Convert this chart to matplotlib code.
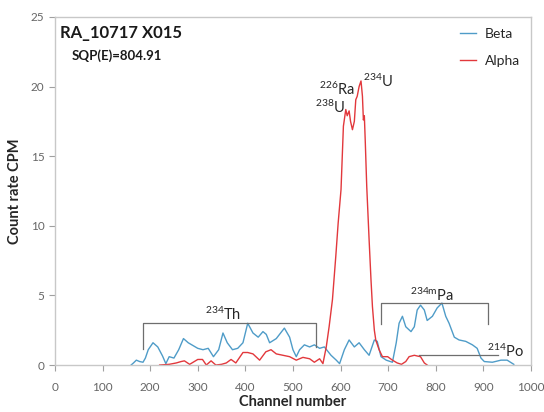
import matplotlib
matplotlib.use("Agg")
import matplotlib.pyplot as plt

plt.rcParams['font.family'] = ['Lato', 'DejaVu Sans']
plt.rcParams['mathtext.fontset'] = 'custom'
plt.rcParams['mathtext.rm'] = 'Lato'
plt.rcParams['mathtext.it'] = 'Lato'
plt.rcParams['mathtext.bf'] = 'Lato:bold'

# ---- data ----
beta_ch = [160, 165, 171, 178, 185, 190, 196, 206, 216, 226, 233, 240, 250, 260, 270, 280, 290, 300,
           311, 322, 333, 344, 353, 362, 373, 384, 395, 405, 416, 427, 437, 444, 451, 465, 482, 493,
           500, 507, 514, 524, 535, 545, 556, 566, 580, 591, 598, 608, 618, 629, 639, 650, 660, 671,
           677, 685, 696, 709, 717, 723, 730, 737, 748, 755, 761, 768, 776, 782, 793, 803, 813, 821,
           828, 839, 849, 863, 877, 887, 895, 902, 919, 937, 950, 964]
beta_cpm = [0.0, 0.15, 0.35, 0.25, 0.2, 0.5, 1.1, 1.6, 1.3, 0.65, 0.1, 0.6, 0.5, 1.1, 1.9, 1.6, 1.4, 1.2,
            1.1, 1.2, 0.6, 1.1, 2.3, 1.6, 1.1, 1.2, 1.6, 3.0, 2.3, 2.0, 2.4, 2.2, 1.6, 1.9, 2.65, 2.0,
            1.1, 0.6, 1.1, 1.45, 1.3, 1.45, 1.2, 1.3, 0.7, 0.35, 0.1, 1.1, 1.8, 1.3, 1.6, 1.1, 0.7, 1.8,
            1.7, 0.6, 0.35, 0.2, 1.6, 3.0, 3.5, 2.75, 2.4, 2.75, 3.95, 4.3, 3.95, 3.2, 3.5, 4.1, 4.45, 3.5,
            3.0, 2.0, 1.8, 1.7, 1.45, 1.2, 0.5, 0.25, 0.2, 0.35, 0.35, 0.05]

alpha_ch = [220, 240, 255, 265, 272, 283, 300, 310, 318, 328, 338, 350, 360, 370, 380, 395, 405, 416,
            430, 443, 454, 465, 479, 493, 507, 521, 535, 545, 556, 563, 570, 576, 583, 590, 595, 601,
            606, 611, 614, 618, 621, 625, 629, 632, 635, 639, 643, 646, 648, 650, 652, 655, 660, 664,
            667, 671, 674, 681, 688, 699, 709, 719, 728, 737, 744, 755, 761, 768, 776, 782]
alpha_cpm = [0.0, 0.05, 0.15, 0.25, 0.3, 0.05, 0.4, 0.4, 0.0, 0.3, 0.0, 0.05, 0.15, 0.4, 0.15, 0.9, 0.9, 0.8,
             0.35, 0.95, 1.1, 0.8, 0.7, 0.6, 0.35, 0.55, 0.45, 0.2, 0.45, 0.1, 1.3, 2.75, 4.7, 7.8, 10.2, 12.6,
             17.15, 18.35, 17.9, 18.25, 17.5, 16.9, 17.5, 19.05, 19.3, 20.0, 20.4, 19.3, 17.6, 17.9, 16.0, 12.85, 9.0, 6.1,
             4.2, 2.5, 1.8, 1.1, 0.6, 0.6, 0.35, 0.15, 0.05, 0.25, 0.6, 0.7, 0.65, 0.6, 0.15, 0.0]

x_ticks = [0, 100, 200, 300, 400, 500, 600, 700, 800, 900, 1000]
y_ticks = [0, 5, 10, 15, 20, 25]

# bracket annotations: (left channel, right channel, bottom-left, bottom-right, top)
th_bracket = (184, 549, 1.15, 1.3, 3.0)
pa_bracket = (686, 909, 2.95, 2.95, 4.45)
po_line = (765, 930, 0.7)

# ---- figure ----
fig = plt.figure(figsize=(5.44, 4.12), dpi=100)
ax = fig.add_axes([0.101, 0.114, 0.875, 0.845])

blue = '#4f9cc8'
red = '#e2383c'
gray = '#666666'
ax.plot(beta_ch, beta_cpm, color=blue, lw=1.0, label='Beta')
ax.plot(alpha_ch, alpha_cpm, color=red, lw=1.0, label='Alpha')

ax.set_xlim(0, 1000)
ax.set_ylim(0, 25)
ax.set_xticks(x_ticks)
ax.set_yticks(y_ticks)
for s in ax.spines.values():
    s.set_color('#c8c8c8')
    s.set_linewidth(1.0)
ax.tick_params(axis='both', colors='#a0a0a0', labelcolor=gray, labelsize=8.5,
               direction='out', length=4, width=0.8)
ax.tick_params(axis='x', pad=8)
ax.set_xlabel('Channel number', fontsize=10.5, fontweight='bold', color='#262626', labelpad=2)
ax.set_ylabel('Count rate CPM', fontsize=10.5, fontweight='bold', color='#262626', labelpad=6)

# brackets
bc = '#6e6e6e'
l, r, bl, br, t = th_bracket
ax.plot([l, l, r, r], [bl, t, t, br], color=bc, lw=0.9)
l, r, bl, br, t = pa_bracket
ax.plot([l, l, r, r], [bl, t, t, br], color=bc, lw=0.9)
ax.plot([po_line[0], po_line[1]], [po_line[2], po_line[2]], color=bc, lw=0.9)

# labels
tc = '#262626'
fs = 10.5
ax.text(353, 3.65, r'$^{\mathregular{234}}$Th', fontsize=fs, ha='center', va='center', color=tc)
ax.text(793, 5.0, r'$^{\mathregular{234m}}$Pa', fontsize=fs, ha='center', va='center', color=tc)
ax.text(946, 0.95, r'$^{\mathregular{214}}$Po', fontsize=fs, ha='center', va='center', color=tc)
ax.text(578, 18.5, r'$^{\mathregular{238}}$U', fontsize=fs, ha='center', va='center', color=tc)
ax.text(593, 19.8, r'$^{\mathregular{226}}$Ra', fontsize=fs, ha='center', va='center', color=tc)
ax.text(679, 20.35, r'$^{\mathregular{234}}$U', fontsize=fs, ha='center', va='center', color=tc)

fig.text(60 / 544, 1 - 33 / 412, 'RA_10717 X015', fontsize=12, fontweight='bold',
         ha='left', va='center', color='#1a1a1a')
fig.text(72 / 544, 1 - 56 / 412, 'SQP(E)=804.91', fontsize=9.5, fontweight='bold',
         ha='left', va='center', color='#1a1a1a')

ax.legend(loc='upper right', bbox_to_anchor=(1.0, 1.0), frameon=False, fontsize=10,
          handlelength=1.2, handletextpad=0.6, labelspacing=1.05, borderaxespad=0.4,
          labelcolor='#262626')

fig.savefig('out.png', dpi=100)
